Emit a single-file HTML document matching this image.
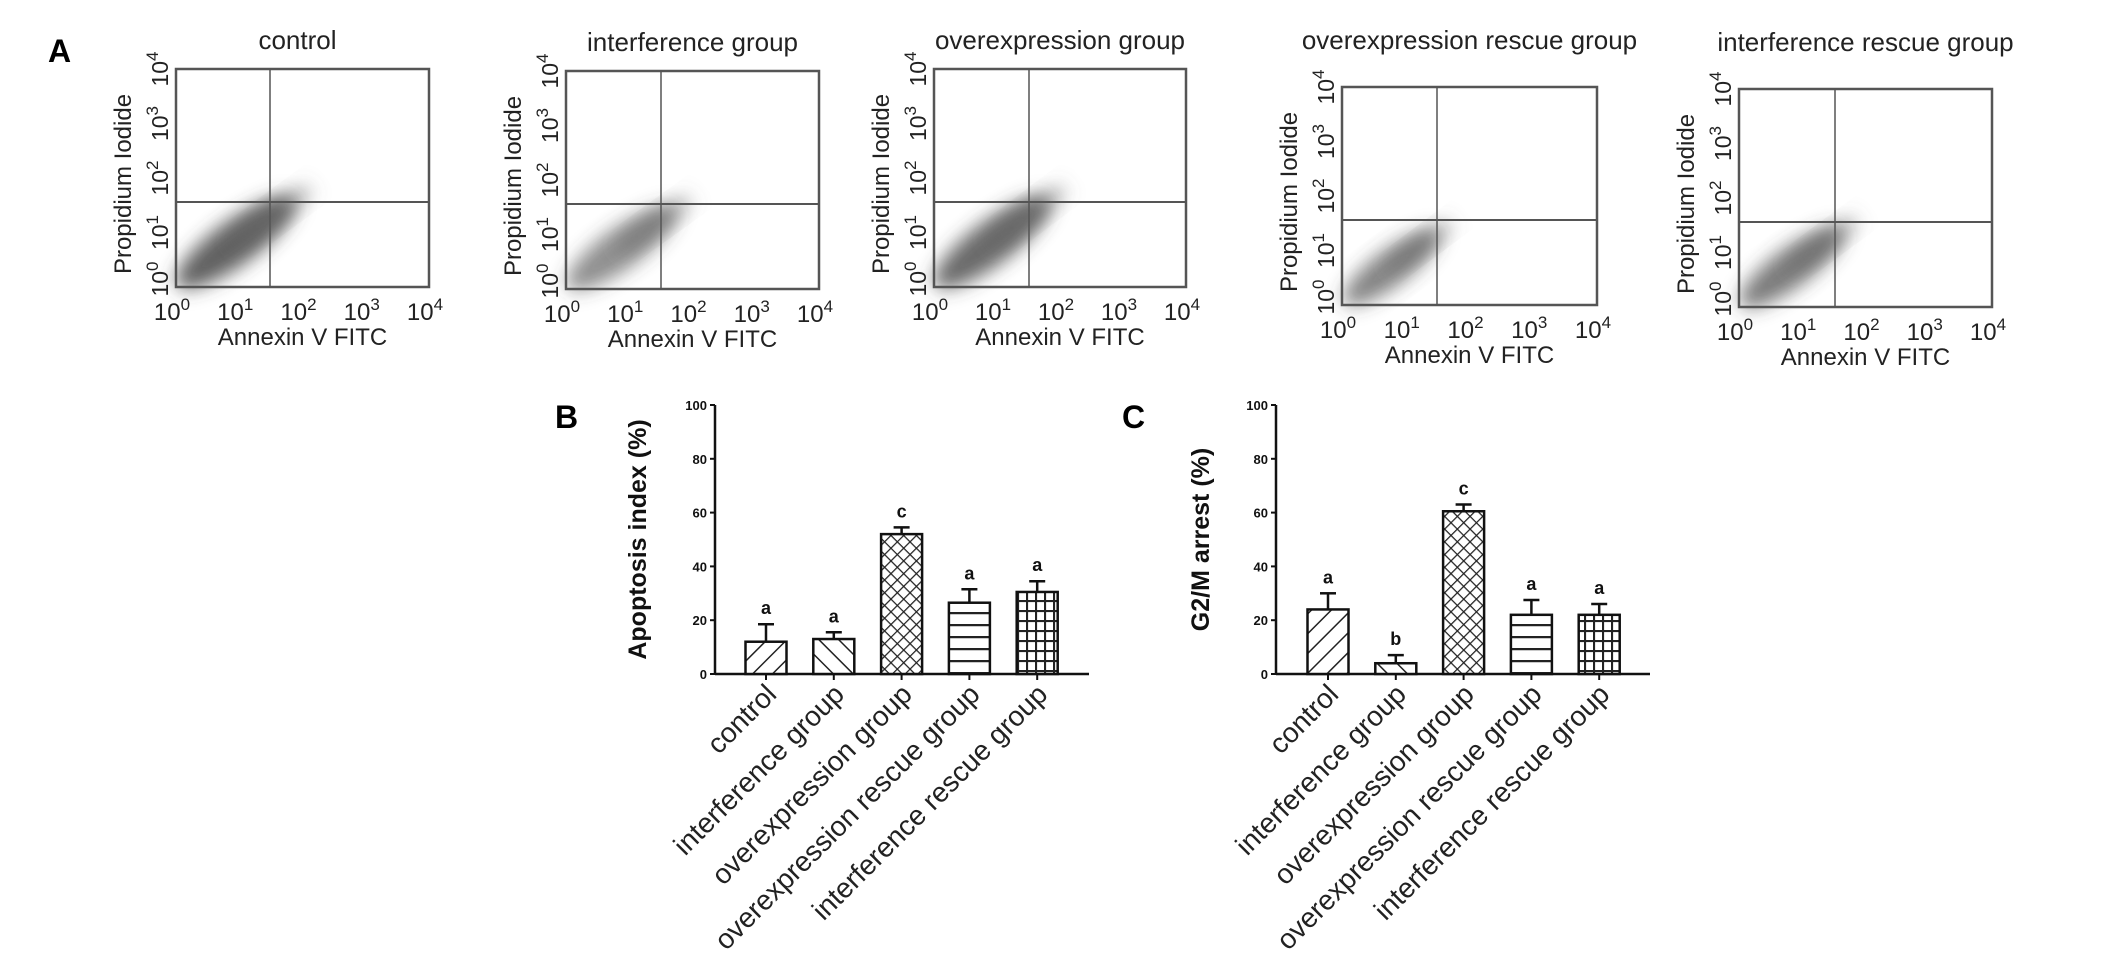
<!DOCTYPE html>
<html><head><meta charset="utf-8">
<style>
html,body{margin:0;padding:0;background:#fff;}
svg{display:block;}
text{font-family:"Liberation Sans",Arial,sans-serif;}
</style></head>
<body>
<svg id="fig" width="2126" height="975" viewBox="0 0 2126 975" xmlns="http://www.w3.org/2000/svg">
<defs>
<filter id="blur" x="-50%" y="-50%" width="200%" height="200%"><feGaussianBlur stdDeviation="9"/></filter>
<pattern id="p-fwd" patternUnits="userSpaceOnUse" width="14" height="14" patternTransform="rotate(45)"><rect width="14" height="14" fill="#fff"/><line x1="0" y1="0" x2="0" y2="14" stroke="#222" stroke-width="3"/></pattern>
<pattern id="p-back" patternUnits="userSpaceOnUse" width="14" height="14" patternTransform="rotate(-45)"><rect width="14" height="14" fill="#fff"/><line x1="0" y1="0" x2="0" y2="14" stroke="#222" stroke-width="3"/></pattern>
<pattern id="p-cross" patternUnits="userSpaceOnUse" width="9" height="9" patternTransform="rotate(45)"><rect width="9" height="9" fill="#fff"/><line x1="0" y1="0" x2="0" y2="9" stroke="#222" stroke-width="2.5"/><line x1="0" y1="0" x2="9" y2="0" stroke="#222" stroke-width="2.5"/></pattern>
<pattern id="p-horiz" patternUnits="userSpaceOnUse" width="12" height="12"><rect width="12" height="12" fill="#fff"/><line x1="0" y1="1" x2="12" y2="1" stroke="#222" stroke-width="2.5"/></pattern>
<pattern id="p-grid" patternUnits="userSpaceOnUse" width="9" height="10"><rect width="9" height="10" fill="#fff"/><line x1="1" y1="0" x2="1" y2="10" stroke="#222" stroke-width="2.2"/><line x1="0" y1="1" x2="9" y2="1" stroke="#222" stroke-width="2.2"/></pattern>
</defs>
<text x="48" y="62" font-family="Liberation Serif, serif" font-weight="bold" font-size="32">A</text>
<text x="555" y="428" font-family="Liberation Serif, serif" font-weight="bold" font-size="32">B</text>
<text x="1122" y="428" font-family="Liberation Serif, serif" font-weight="bold" font-size="32">C</text>
<g id="flow"></g>
<g id="chartB"></g>
<g id="chartC"></g>
</svg>
<script>
// ---- Flow cytometry panels ----
const flowTitles = ["control","interference group","overexpression group","overexpression rescue group","interference rescue group"];
const flowBoxes = [[176,69,429,287],[566,71,819,289],[934,69,1186,287],[1342,87,1597,305],[1739,89,1992,307]];
const flowGate = [[270,202],[661,204],[1029,202],[1437,220],[1835,222]];
const cloudEnd = [[2.1,1.8],[1.95,1.65],[2.05,1.8],[1.7,1.5],[1.85,1.6]];
const cloudDensity = [0.85,0.6,0.8,0.65,0.7];

const NS="http://www.w3.org/2000/svg";
function mk(tag,attrs,parent){const e=document.createElementNS(NS,tag);for(const k in attrs)e.setAttribute(k,attrs[k]);parent.appendChild(e);return e;}
const flow=document.getElementById('flow');
flowTitles.forEach((t,i)=>{
  const [x0,y0,x1,y1]=flowBoxes[i];
  const g=mk('g',{},flow);
  
  
  const sx=d=>x0+(x1-x0)*d/4, sy=d=>y1-(y1-y0)*d/4;
  const tt=mk('text',{x:(x0+x1)/2+(i===0?-5:0),y:y0-20-(i>=3?18:0),'text-anchor':'middle','font-size':26,fill:'#222'},g);
  tt.textContent=t;
  
  
  const ex=cloudEnd[i];
  const cx0=sx(0.1),cy0=sy(0.1),cx1=sx(ex[0]),cy1=sy(ex[1]);
  const len=Math.hypot(cx1-cx0,cy1-cy0), ang=Math.atan2(cy1-cy0,cx1-cx0)*180/Math.PI;
  const cl=mk('g',{transform:`translate(${cx0},${cy0}) rotate(${ang})`},g);
  
  
  mk('ellipse',{cx:len*0.42,cy:0,rx:len*0.46,ry:len*0.14,fill:'#444','fill-opacity':cloudDensity[i],filter:'url(#blur)'},cl);
  mk('ellipse',{cx:len*0.7,cy:0,rx:len*0.32,ry:len*0.07,fill:'#666','fill-opacity':0.5,filter:'url(#blur)'},cl);
  const box=mk('rect',{x:x0,y:y0,width:x1-x0,height:y1-y0,fill:'none',stroke:'#555','stroke-width':2.5},g);
  
  
  mk('line',{x1:flowGate[i][0],y1:y0,x2:flowGate[i][0],y2:y1,stroke:'#555','stroke-width':1.5},g);
  mk('line',{x1:x0,y1:flowGate[i][1],x2:x1,y2:flowGate[i][1],stroke:'#555','stroke-width':2},g);
  for(let d=0;d<=4;d++){
    const tx=mk('text',{x:sx(d)-4,y:y1+33,'text-anchor':'middle','font-size':24,fill:'#222'},g);
    tx.innerHTML='10<tspan dy="-10" font-size="17">'+d+'</tspan>';
    
    
    const ty=mk('text',{x:0,y:0,transform:`translate(${x0-8},${sy(d)+(d===0?-8:0)}) rotate(-90)`,'text-anchor':'middle','font-size':23,fill:'#222'},g);
    ty.innerHTML='10<tspan dy="-10" font-size="17">'+d+'</tspan>';
    
    
  }
  const xt=mk('text',{x:(x0+x1)/2,y:y1+58,'text-anchor':'middle','font-size':24,fill:'#222'},g);
  xt.textContent='Annexin V  FITC';
  
  
  const yt=mk('text',{x:0,y:0,transform:`translate(${x0-45},${(y0+y1)/2+6}) rotate(-90)`,'text-anchor':'middle','font-size':24,fill:'#222'},g);
  yt.textContent='Propidium Iodide';
  
  
});

// ---- Bar charts ----
const categories = ["control","interference group","overexpression group","overexpression rescue group","interference rescue group"];
const apoptosisValues = [12,13,52,26.5,30.5];
const apoptosisErr = [6.5,2.5,2.5,5,4];
const apoptosisLetters = ["a","a","c","a","a"];
const g2mValues = [24,4,60.5,22,22];
const g2mErr = [6,3,2.5,5.5,4];
const g2mLetters = ["a","b","c","a","a"];
const yTicks = [0,20,40,60,80,100];
const patterns = ["p-fwd","p-back","p-cross","p-horiz","p-grid"];

function barChart(id,axisX,axisRight,firstCenter,step,vals,errs,letters,title,titleX){
  const g=document.getElementById(id);
  
  
  const y0=674,y100=405;
  const sy=v=>y0-(y0-y100)*v/100;
  const sx=i=>firstCenter+i*step;
  const bw=41;
  mk('line',{x1:axisX,y1:y100,x2:axisX,y2:y0+1,stroke:'#111','stroke-width':2.5},g);
  mk('line',{x1:axisX,y1:y0,x2:axisRight,y2:y0,stroke:'#111','stroke-width':2.5},g);
  yTicks.forEach(t=>{
    mk('line',{x1:axisX-5,y1:sy(t),x2:axisX,y2:sy(t),stroke:'#111','stroke-width':2},g);
    const tl=mk('text',{x:axisX-8,y:sy(t)+5,'text-anchor':'end','font-size':13,'font-weight':'bold',fill:'#111'},g);
    tl.textContent=t;
    
    
  });
  vals.forEach((v,i)=>{
    const cx=sx(i);
    const top=sy(v+errs[i]);
    mk('line',{x1:cx,y1:sy(v),x2:cx,y2:top,stroke:'#111','stroke-width':2.5},g);
    mk('line',{x1:cx-8,y1:top,x2:cx+8,y2:top,stroke:'#111','stroke-width':2.5},g);
    const b=mk('rect',{x:cx-bw/2,y:sy(v),width:bw,height:y0-sy(v),fill:'url(#'+patterns[i]+')',stroke:'#111','stroke-width':2.5},g);
    
    
    mk('line',{x1:cx,y1:y0,x2:cx,y2:y0+6,stroke:'#111','stroke-width':2},g);
    const lt=mk('text',{x:cx,y:top-10,'text-anchor':'middle','font-size':18,'font-weight':'bold',fill:'#111'},g);
    lt.textContent=letters[i];
    
    
    const cl=mk('text',{x:0,y:0,transform:`translate(${cx+12},${y0+22}) rotate(-45)`,'text-anchor':'end','font-size':28,fill:'#222'},g);
    cl.textContent=categories[i];
    
    
  });
  const yt=mk('text',{x:0,y:0,transform:`translate(${titleX},${(y0+y100)/2}) rotate(-90)`,'text-anchor':'middle','font-size':25,'font-weight':'bold',fill:'#111'},g);
  yt.textContent=title;
  
  
}
barChart('chartB',715,1089,766,67.8,apoptosisValues,apoptosisErr,apoptosisLetters,'Apoptosis index (%)',646);
barChart('chartC',1276,1650,1328,67.8,g2mValues,g2mErr,g2mLetters,'G2/M arrest (%)',1209);
</script>
</body></html>
